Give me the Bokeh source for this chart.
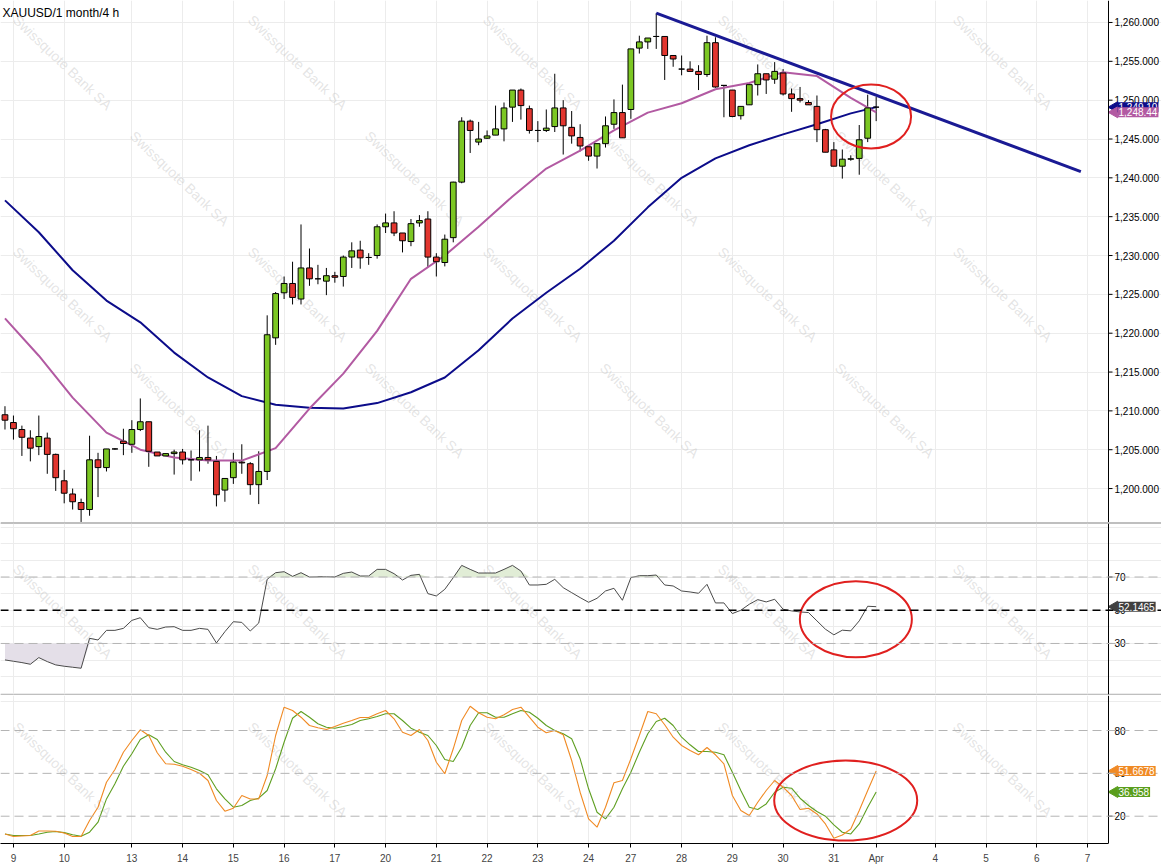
import numpy as np
from bokeh.plotting import figure
from bokeh.layouts import column
from bokeh.models import Range1d, FixedTicker, Span, Label, ColumnDataSource
from bokeh.embed import file_html
from bokeh.resources import INLINE
from bokeh.core.properties import value

# ---------------- data ----------------
title_text = "XAUUSD/1 month/4 h"

opens = [1209.5,1208.5,1207.6,1206.5,1205.4,1206.5,1204.4,1201.0,1199.3,1198.2,
 1197.3,1203.7,1202.7,1205.1,1206.1,1205.7,1207.6,1208.6,1204.7,1204.2,
 1204.5,1204.7,1203.7,1203.7,1204.0,1203.5,1199.8,1201.4,1203.4,1203.2,
 1200.5,1202.2,1219.4,1225.2,1226.4,1224.4,1228.4,1227.0,1226.7,1227.4,
 1227.3,1229.8,1230.7,1229.75,1230.0,1233.7,1234.2,1232.9,1231.8,1234.2,
 1234.7,1229.8,1229.1,1232.3,1239.45,1247.3,1244.6,1245.1,1245.5,1246.3,
 1249.1,1251.3,1248.9,1246.1,1246.1,1246.6,1249.0,1246.5,1245.2,1244.0,
 1242.8,1244.4,1246.9,1248.4,1248.8,1256.7,1257.5,1258.2,1258.2,1255.75,
 1254.0,1254.0,1253.7,1253.3,1257.4,1251.9,1251.3,1248.0,1249.4,1252.0,
 1253.4,1252.7,1253.5,1250.8,1250.2,1249.7,1249.2,1246.2,1243.6,1241.5,
 1242.4,1242.5,1245.1,1249.1]
highs = [1210.6,1209.4,1208.1,1207.5,1209.4,1207.2,1204.5,1202.4,1200.0,1198.7,
 1206.8,1204.6,1205.1,1205.2,1207.7,1208.8,1211.6,1208.6,1204.7,1204.5,
 1205.0,1205.1,1204.9,1207.5,1208.1,1204.2,1201.3,1204.6,1205.7,1203.4,
 1204.8,1222.3,1225.3,1227.3,1229.2,1234.0,1230.9,1228.8,1228.4,1227.9,
 1230.0,1231.7,1231.9,1230.3,1234.0,1235.4,1235.7,1232.9,1234.7,1235.2,
 1235.7,1230.3,1232.7,1239.5,1247.8,1247.5,1247.2,1246.1,1249.3,1249.7,
 1251.3,1251.5,1249.3,1247.3,1248.8,1253.4,1250.0,1248.6,1246.9,1244.0,
 1244.4,1247.9,1250.1,1252.0,1256.6,1258.3,1258.0,1261.2,1258.2,1255.75,
 1255.75,1255.0,1254.5,1258.3,1258.1,1251.9,1251.3,1249.2,1252.0,1254.6,
 1253.4,1254.9,1254.0,1251.5,1251.7,1250.0,1250.6,1246.3,1244.6,1243.65,
 1242.9,1246.8,1250.7,1250.4]
lows = [1207.6,1206.3,1204.2,1203.5,1204.3,1201.9,1199.7,1198.1,1197.3,1195.7,
 1196.5,1198.9,1202.2,1205.0,1204.3,1204.6,1207.4,1202.8,1204.2,1204.2,
 1201.8,1203.1,1201.0,1202.2,1203.2,1197.7,1198.3,1200.6,1201.9,1199.2,
 1198.0,1201.1,1218.5,1224.4,1223.7,1223.7,1226.1,1226.3,1224.9,1226.5,
 1226.0,1228.4,1228.3,1228.8,1229.6,1232.9,1232.5,1230.4,1231.2,1233.7,
 1228.5,1227.3,1228.6,1231.7,1239.3,1243.2,1244.2,1245.0,1245.5,1244.7,
 1247.2,1247.5,1245.7,1244.6,1245.9,1245.9,1243.0,1244.4,1243.4,1242.2,
 1241.2,1243.9,1246.3,1245.15,1247.6,1256.0,1256.6,1256.6,1252.6,1254.3,
 1253.2,1253.7,1251.3,1253.0,1251.6,1247.8,1247.8,1247.5,1249.4,1250.6,
 1250.8,1252.1,1250.6,1248.5,1249.7,1249.4,1244.6,1243.3,1241.5,1239.9,
 1242.2,1240.4,1244.6,1247.3]
closes = [1208.8,1207.7,1206.6,1205.2,1206.7,1204.4,1201.4,1199.4,1198.3,1197.3,
 1203.7,1202.7,1205.1,1205.1,1205.8,1207.6,1208.6,1204.8,1204.2,1204.5,
 1204.7,1203.7,1203.7,1204.0,1203.7,1199.2,1201.3,1203.4,1203.3,1200.5,
 1202.2,1219.8,1225.1,1226.4,1224.6,1228.4,1227.0,1227.0,1227.4,1227.2,
 1229.8,1230.6,1229.7,1229.75,1233.7,1234.2,1232.9,1231.9,1234.1,1234.5,
 1229.8,1229.2,1232.1,1239.45,1247.3,1246.1,1245.0,1245.4,1246.3,1249.0,
 1251.3,1249.3,1246.1,1246.1,1246.4,1249.0,1246.7,1245.4,1244.1,1242.8,
 1244.4,1246.7,1248.4,1245.15,1256.6,1257.5,1258.0,1258.2,1255.75,1255.3,
 1254.0,1253.7,1253.3,1257.4,1251.7,1251.9,1247.9,1249.2,1252.0,1253.4,
 1252.6,1253.7,1250.8,1250.2,1250.0,1249.4,1246.2,1243.3,1241.5,1242.4,
 1242.45,1244.9,1249.0,1249.1]

# moving averages read at every 4th bar (and the last bar)
ma_index = [0,4,8,12,16,20,24,28,32,36,40,44,48,52,56,60,64,68,72,76,80,84,88,92,96,100,103]
ma_fast = [1221.9,1217.1,1211.7,1207.2,1205.0,1204.0,1203.6,1203.6,1205.2,1210.3,
 1214.8,1220.3,1227.0,1230.0,1233.7,1237.6,1241.2,1243.5,1246.1,1248.4,
 1249.6,1251.4,1252.2,1253.6,1253.1,1250.3,1248.44]
ma_slow = [1237.1,1233.0,1228.1,1224.2,1221.4,1217.5,1214.3,1211.9,1210.8,1210.4,
 1210.3,1211.0,1212.4,1214.3,1217.8,1221.9,1225.2,1228.3,1231.9,1236.2,
 1240.0,1242.5,1244.2,1245.6,1246.9,1248.3,1249.10]

rsi = [20.1,19.3,18.5,17.5,21.5,19.1,17.1,16.3,15.7,15.1,
 33.1,32.1,37.9,37.9,39.1,43.9,45.5,39.5,38.5,39.9,
 40.1,37.9,37.9,39.1,38.5,30.3,37.1,43.1,42.7,37.5,
 42.3,68.6,72.6,73.2,70.4,72.6,70.0,70.1,70.2,70.0,
 72.2,73.0,70.6,70.6,74.6,74.6,72.0,68.2,71.0,71.6,
 60.0,58.6,62.6,69.6,77.0,74.6,72.4,72.4,72.4,74.6,
 77.0,73.6,65.2,65.2,65.6,68.6,63.6,60.6,57.6,54.8,
 57.2,61.6,63.2,56.0,69.6,70.8,70.8,71.2,65.2,64.6,
 61.6,61.0,60.2,65.6,54.4,54.4,48.0,50.0,53.6,56.4,
 55.0,56.6,50.6,49.6,49.0,48.6,43.6,38.6,35.2,38.0,
 37.6,43.6,52.4,52.1465]

stoch_k = [7.6,5.8,6.2,6.5,9.7,9.7,9.5,8.3,5.8,5.8,
 17.0,26.3,43.8,52.7,64.8,73.0,80.5,76.5,64.4,56.7,
 56.4,55.0,52.7,50.1,45.0,31.0,23.5,25.6,34.5,32.1,
 32.1,48.5,76.5,96.3,94.0,89.3,83.5,81.9,80.7,82.8,
 85.1,87.0,89.1,89.1,91.7,94.0,88.2,78.8,76.5,80.7,
 73.0,57.8,49.7,67.2,87.0,97.0,92.4,89.3,88.2,91.0,
 94.7,96.3,89.3,82.3,78.4,80.0,77.0,59.0,36.8,18.1,
 12.3,26.3,43.4,45.0,60.2,76.5,93.3,91.7,84.0,75.3,
 69.5,66.0,63.0,68.1,63.0,56.7,34.5,24.0,20.5,29.8,
 38.0,45.0,40.3,34.5,24.7,25.6,21.6,14.6,4.6,6.9,
 11.1,24.0,38.0,51.6678]
stoch_d = [7.6,6.5,6.5,6.5,7.5,8.8,9.3,8.5,7.0,6.0,
 8.8,15.8,32.1,42.7,55.0,63.7,73.7,77.0,73.7,64.8,
 58.3,56.0,54.3,52.0,49.0,39.2,32.1,26.3,27.5,31.0,
 32.6,38.0,53.2,71.8,88.6,93.3,89.3,84.7,82.3,81.6,
 82.8,84.2,87.0,88.2,89.8,91.7,91.7,87.0,81.6,78.8,
 76.5,69.5,59.7,58.3,68.3,83.5,92.4,92.4,89.3,89.3,
 91.7,94.0,92.8,88.6,83.5,80.0,77.7,74.2,60.2,39.2,
 22.8,18.1,26.3,39.2,50.8,64.8,77.7,86.3,88.6,83.5,
 75.3,70.0,65.3,65.3,64.8,63.0,50.8,38.0,26.3,24.7,
 28.6,36.8,40.3,39.6,32.6,27.5,23.3,20.0,13.9,8.8,
 7.6,14.6,26.3,36.958]

day_ticks = [1,7,15,21,27,33,39,45,51,57,63,69,74,80,86,92,98,103,110,116,122,128]
day_labels = ["9","10","13","14","15","16","17","20","21","22","23","24",
              "27","28","29","30","31","Apr","4","5","6","7"]

price_ticks = [1200,1205,1210,1215,1220,1225,1230,1235,1240,1245,1250,1255,1260]
rsi_levels = [30, 50, 70]
stoch_levels = [20, 50, 80]

trend_x = [77, 127.2]
trend_y = [1261.2, 1240.8]

# highlighted areas (center bar, center value)
circle_main = (102.4, 1247.9)
circle_rsi = (100.6, 44.6)
circle_stoch = (99.4, 31.0)

# ---------------- layout / styling ----------------
W = 1161                 # full page width (frame spans it; value scale drawn inside)
AXIS_PX = 1108           # pixel column of the value-scale line
X0 = -0.53
X_AXIS = 130.47          # bar index at the value-scale line
X1 = X0 + (X_AXIS - X0) * W / AXIS_PX
PX = (X_AXIS - X0) / AXIS_PX   # data units per pixel horizontally
FONT = "Liberation Sans"
GREEN = "#7cc723"
RED = "#e2362f"
NAVY = "#0c0c8a"
MAGENTA = "#b25aa2"
GRID = "#ececec"

xr = Range1d(X0, X1)
n = len(opens)
idx = list(range(n))


def make_fig(fh, y0, y1, bottom_labels=False, separators=False):
    p = figure(frame_width=W, frame_height=fh, x_range=xr, y_range=Range1d(y0, y1),
               output_backend="svg", toolbar_location=None,
               min_border_left=0, min_border_right=0,
               min_border_top=1 if separators else 0,
               min_border_bottom=1 if separators else 0)
    if separators:
        p.border_fill_color = "black"
    p.yaxis.visible = False
    p.outline_line_color = None
    p.xgrid.ticker = FixedTicker(ticks=day_ticks)
    p.xgrid.grid_line_color = GRID
    p.ygrid.grid_line_color = GRID
    ax = p.xaxis[0]
    if bottom_labels:
        ax.bounds = (X0, X_AXIS)
        ax.axis_line_color = "black"
        ax.minor_tick_line_color = None
        ax.ticker = FixedTicker(ticks=day_ticks)
        ax.major_tick_in = 0
        ax.major_tick_out = 4
        ax.major_label_standoff = 5
        ax.major_label_text_font = FONT
        ax.major_label_text_font_size = "10px"
        ax.major_label_overrides = {t: l for t, l in zip(day_ticks, day_labels)}
    else:
        ax.visible = False
    # value-scale line
    p.add_layout(Span(location=X_AXIS, dimension="height", line_color="black", line_width=1))
    return p


def value_scale(p, ticks, labels):
    p.segment(x0=[X_AXIS] * len(ticks), x1=[X_AXIS + 4 * PX] * len(ticks), y0=ticks, y1=ticks,
              line_color="black", line_width=1)
    p.text(x=[X_AXIS] * len(ticks), y=ticks, text=labels, x_offset=6,
           text_baseline="middle", text_align="left", text_font=value(FONT),
           text_font_size="10px", text_color="black")


def add_watermark(p, h, y0, y1, rows):
    xs, ys = [], []
    for r, sy in enumerate(rows):
        for c in range(6):
            sx = 62 + c * 235 + (r % 2) * 117
            if sx <= W - 58:
                xs.append(X0 + sx * PX)
                ys.append(y1 - sy / h * (y1 - y0))
    p.text(x=xs, y=ys, text=["Swissquote Bank SA"] * len(xs), angle=-0.76,
           text_align="center", text_baseline="middle", text_font=value(FONT),
           text_font_size="14px", text_color="#c4c4c4", text_alpha=0.45)


def tag(p, yv, txt, bg):
    p.scatter(x=[X_AXIS + 6 * PX], y=[yv], marker="triangle", angle=np.pi / 2, size=11,
              fill_color=bg, line_color=bg)
    p.add_layout(Label(x=X_AXIS, y=yv, x_offset=9, text=txt, text_baseline="middle",
                       text_align="left", text_font=FONT, text_font_size="10px",
                       text_color="white", background_fill_color=bg,
                       background_fill_alpha=1.0, padding=1))


# ---------------- main price panel ----------------
MY0, MY1 = 1195.63, 1262.83
MH = 522
p1 = make_fig(MH, MY0, MY1)
p1.ygrid.ticker = FixedTicker(ticks=price_ticks)
add_watermark(p1, MH, MY0, MY1, [62, 178, 294, 410])

body_top = [max(o, c) for o, c in zip(opens, closes)]
body_bot = [min(o, c) for o, c in zip(opens, closes)]
colors = [GREEN if c > o else (RED if c < o else "black") for o, c in zip(opens, closes)]
src = ColumnDataSource(dict(x=idx, top=body_top, bottom=body_bot, high=highs, low=lows, color=colors))
p1.segment(x0="x", y0="low", x1="x", y1="high", source=src, line_color="black", line_width=1)
p1.line(ma_index, ma_slow, line_color=NAVY, line_width=2)
p1.line(ma_index, ma_fast, line_color=MAGENTA, line_width=2)
p1.vbar(x="x", top="top", bottom="bottom", width=0.68, source=src, fill_color="color",
        line_color="black", line_width=1)
p1.line(trend_x, trend_y, line_color="#1a1a94", line_width=3)
p1.ellipse(x=[circle_main[0]], y=[circle_main[1]], width=[80], height=[64],
           width_units="screen", height_units="screen", fill_color=None,
           line_color="#e0201f", line_width=2)
p1.add_layout(Label(x=X0, y=MY1, x_offset=2, y_offset=-5, text=title_text,
                    text_baseline="top", text_font=FONT, text_font_size="12px", text_color="black"))
value_scale(p1, price_ticks, [f"{v:,.3f}" for v in price_ticks])
tag(p1, ma_slow[-1], "1,249.10", NAVY)
tag(p1, ma_fast[-1], "1,248.44", MAGENTA)

# ---------------- RSI panel ----------------
RY0, RY1 = -0.7, 102.2
RH = 171
p2 = make_fig(RH, RY0, RY1, separators=True)
p2.ygrid.ticker = FixedTicker(ticks=list(range(0, 101, 10)))
add_watermark(p2, RH, RY0, RY1, [88])
lo = [min(v, rsi_levels[0]) for v in rsi]
hi = [max(v, rsi_levels[2]) for v in rsi]
p2.varea(x=idx, y1=lo, y2=[rsi_levels[0]] * n, fill_color="#e4dfe8")
p2.varea(x=idx, y1=[rsi_levels[2]] * n, y2=hi, fill_color="#e1edd6")
for lv in (rsi_levels[0], rsi_levels[2]):
    p2.add_layout(Span(location=lv, dimension="width", line_color="#b4b4b4", line_dash="9 5", line_width=1))
p2.add_layout(Span(location=rsi_levels[1], dimension="width", line_color="black", line_dash="8 5", line_width=1.5))
p2.line(idx, rsi, line_color="#4a4a4a", line_width=1)
p2.ellipse(x=[circle_rsi[0]], y=[circle_rsi[1]], width=[112], height=[76],
           width_units="screen", height_units="screen", fill_color=None,
           line_color="#e0201f", line_width=2)
value_scale(p2, rsi_levels, [str(v) for v in rsi_levels])
tag(p2, rsi[-1], "52.1465", "#404040")

# ---------------- Stochastic panel ----------------
SY0, SY1 = 0.9, 104.5
SH = 148
p3 = make_fig(SH, SY0, SY1, bottom_labels=True)
p3.ygrid.ticker = FixedTicker(ticks=[100])
add_watermark(p3, SH, SY0, SY1, [74])
for lv in stoch_levels:
    p3.add_layout(Span(location=lv, dimension="width", line_color="#b4b4b4", line_dash="9 5", line_width=1))
p3.line(idx, stoch_d, line_color="#5f9f22", line_width=1.1)
p3.line(idx, stoch_k, line_color="#f08a24", line_width=1.1)
p3.ellipse(x=[circle_stoch[0]], y=[circle_stoch[1]], width=[143], height=[80],
           width_units="screen", height_units="screen", fill_color=None,
           line_color="#e0201f", line_width=2)
value_scale(p3, stoch_levels, [str(v) for v in stoch_levels])
tag(p3, stoch_k[-1], "51.6678", "#f08a24")
tag(p3, stoch_d[-1], "36.958", "#5a9e1c")

layout = column(p1, p2, p3, spacing=0)
open("out.html", "w").write(file_html(layout, INLINE))
